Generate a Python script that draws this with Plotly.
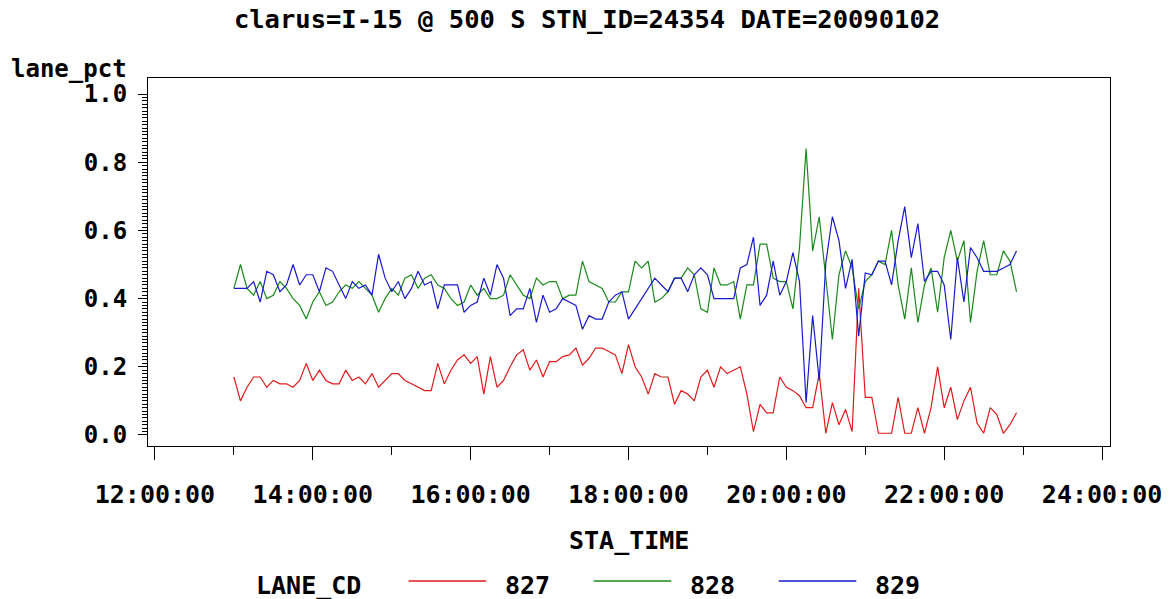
import pandas as pd
import plotly.graph_objects as go

# ---------------- data ----------------
START = "2009-01-02 13:00"
N_POINTS = 120          # 5-minute samples, 13:00 .. 22:55
lane_codes = ["827", "828", "829"]
lane_colors = ["#e01a1a", "#1a8a1a", "#1a1acc"]

lane_827 = [0.17, 0.10, 0.14, 0.17, 0.17, 0.14, 0.16, 0.15, 0.15, 0.14,
            0.16, 0.21, 0.16, 0.19, 0.16, 0.15, 0.15, 0.19, 0.16, 0.17,
            0.15, 0.18, 0.14, 0.16, 0.18, 0.18, 0.16, 0.15, 0.14, 0.13,
            0.13, 0.21, 0.15, 0.19, 0.22, 0.235, 0.21, 0.23, 0.12, 0.23,
            0.14, 0.16, 0.20, 0.235, 0.25, 0.19, 0.22, 0.17, 0.215, 0.215,
            0.23, 0.235, 0.255, 0.205, 0.225, 0.255, 0.255, 0.245, 0.235, 0.18,
            0.265, 0.20, 0.17, 0.12, 0.18, 0.17, 0.17, 0.09, 0.13, 0.12,
            0.10, 0.17, 0.19, 0.14, 0.20, 0.18, 0.19, 0.20, 0.12, 0.01,
            0.09, 0.065, 0.065, 0.17, 0.14, 0.13, 0.115, 0.08, 0.08, 0.18,
            0.005, 0.095, 0.03, 0.075, 0.01, 0.43, 0.11, 0.11, 0.005, 0.005,
            0.005, 0.11, 0.005, 0.005, 0.08, 0.005, 0.08, 0.20, 0.08, 0.14,
            0.045, 0.10, 0.14, 0.035, 0.005, 0.08, 0.06, 0.005, 0.03, 0.065]

lane_828 = [0.43, 0.50, 0.43, 0.41, 0.45, 0.40, 0.41, 0.45, 0.43, 0.40,
            0.38, 0.34, 0.39, 0.42, 0.38, 0.39, 0.42, 0.44, 0.43, 0.45,
            0.43, 0.41, 0.36, 0.40, 0.43, 0.41, 0.46, 0.47, 0.43, 0.46,
            0.47, 0.44, 0.43, 0.40, 0.38, 0.39, 0.44, 0.41, 0.43, 0.40,
            0.40, 0.41, 0.47, 0.44, 0.41, 0.40, 0.46, 0.44, 0.45, 0.45,
            0.40, 0.41, 0.41, 0.51, 0.45, 0.44, 0.43, 0.39, 0.39, 0.42,
            0.42, 0.51, 0.49, 0.51, 0.39, 0.40, 0.42, 0.46, 0.46, 0.49,
            0.47, 0.37, 0.36, 0.49, 0.44, 0.44, 0.45, 0.34, 0.44, 0.44,
            0.56, 0.56, 0.46, 0.45, 0.45, 0.37, 0.55, 0.84, 0.54, 0.64,
            0.45, 0.28, 0.47, 0.54, 0.49, 0.37, 0.45, 0.47, 0.51, 0.50,
            0.60, 0.44, 0.34, 0.49, 0.33, 0.44, 0.49, 0.36, 0.52, 0.60,
            0.51, 0.57, 0.33, 0.48, 0.57, 0.47, 0.47, 0.54, 0.51, 0.42]

lane_829 = [0.43, 0.43, 0.43, 0.45, 0.39, 0.48, 0.47, 0.42, 0.44, 0.50,
            0.44, 0.47, 0.47, 0.42, 0.49, 0.48, 0.44, 0.40, 0.45, 0.43,
            0.44, 0.41, 0.53, 0.46, 0.42, 0.45, 0.40, 0.43, 0.48, 0.44,
            0.45, 0.37, 0.44, 0.44, 0.44, 0.36, 0.38, 0.39, 0.46, 0.41,
            0.50, 0.46, 0.35, 0.37, 0.37, 0.43, 0.33, 0.41, 0.36, 0.37,
            0.40, 0.39, 0.38, 0.31, 0.35, 0.34, 0.34, 0.39, 0.41, 0.42,
            0.34, 0.37, 0.40, 0.43, 0.46, 0.44, 0.42, 0.46, 0.46, 0.42,
            0.47, 0.49, 0.47, 0.40, 0.40, 0.40, 0.40, 0.49, 0.50, 0.58,
            0.38, 0.41, 0.51, 0.41, 0.45, 0.535, 0.45, 0.095, 0.35, 0.16,
            0.505, 0.64, 0.57, 0.43, 0.515, 0.29, 0.475, 0.47, 0.51, 0.51,
            0.44, 0.57, 0.67, 0.52, 0.62, 0.45, 0.48, 0.48, 0.44, 0.28,
            0.52, 0.39, 0.55, 0.52, 0.48, 0.48, 0.48, 0.49, 0.50, 0.54]

x_tick_hours = [12, 14, 16, 18, 20, 22, 24]
x_tick_labels = ["12:00:00", "14:00:00", "16:00:00", "18:00:00",
                 "20:00:00", "22:00:00", "24:00:00"]
y_tick_vals = [0.0, 0.2, 0.4, 0.6, 0.8, 1.0]
y_tick_labels = ["0.0", "0.2", "0.4", "0.6", "0.8", "1.0"]

# ---------------- build ----------------
times = pd.date_range(START, periods=N_POINTS, freq="5min")
hours = [t.hour + t.minute / 60 for t in times]
series = [lane_827, lane_828, lane_829]

W, H = 1174, 599
L, R, T, B = 148, 1115, 78, 446          # plot frame in pixels
FONT = "DejaVu Sans Mono"


def px(xp):
    return (xp - L) / (R - L)


def py(yp):
    return (B - yp) / (B - T)


def bold_font(size):
    return dict(family=FONT, size=size, color="black", weight="bold")


fig = go.Figure()
for code, col, vals in zip(lane_codes, lane_colors, series):
    fig.add_trace(go.Scatter(x=hours, y=vals, mode="lines", name=code,
                             line=dict(color=col, width=1.2),
                             showlegend=False, hoverinfo="skip"))

# manual SAS-style legend
annotations = [
    dict(text="LANE_CD", x=px(255), y=py(585), xref="paper", yref="paper",
         xanchor="left", yanchor="middle", showarrow=False,
         font=bold_font(25)),
]
shapes = []
leg_x0 = [410, 596, 782]
for code, col, x0 in zip(lane_codes, lane_colors, leg_x0):
    shapes.append(dict(type="line", xref="paper", yref="paper",
                       x0=px(x0), x1=px(x0 + 78), y0=py(581), y1=py(581),
                       line=dict(color=col, width=1.5)))
    annotations.append(dict(text=code, x=px(x0 + 95), y=py(585),
                            xref="paper", yref="paper", xanchor="left",
                            yanchor="middle", showarrow=False,
                            font=bold_font(25)))

# axis titles
annotations.append(dict(text="lane_pct", x=px(129), y=py(69),
                        xref="paper", yref="paper", xanchor="right",
                        yanchor="middle", showarrow=False,
                        font=bold_font(24)))
annotations.append(dict(text="STA_TIME", x=px(631), y=py(540),
                        xref="paper", yref="paper", xanchor="center",
                        yanchor="middle", showarrow=False,
                        font=bold_font(25)))

fig.update_layout(
    width=W, height=H,
    margin=dict(l=L, r=W - R, t=T, b=H - B, pad=0),
    paper_bgcolor="white", plot_bgcolor="white",
    title=dict(text="clarus=I-15 @ 500 S STN_ID=24354 DATE=20090102",
               x=0.5, xref="container", xanchor="center",
               y=1 - 19 / H, yref="container", yanchor="middle",
               font=bold_font(25.5)),
    annotations=annotations,
    shapes=shapes,
    xaxis=dict(
        range=[12 - 7 / 79.33, 24 + 8 / 79.33],
        tickmode="array", tickvals=x_tick_hours, ticktext=x_tick_labels,
        ticks="outside", ticklen=13, tickwidth=1, tickcolor="black",
        showline=True, linecolor="black", linewidth=1, mirror=True,
        showgrid=False, zeroline=False,
        tickfont=bold_font(25),
        ticklabelstandoff=13,
        minor=dict(tickmode="array", tickvals=[13, 15, 17, 19, 21, 23],
                   ticks="outside", ticklen=8, tickwidth=1, tickcolor="black"),
    ),
    yaxis=dict(
        range=[-11 / 340, 1 + 16 / 340],
        tickmode="array", tickvals=y_tick_vals, ticktext=y_tick_labels,
        ticks="outside", ticklen=9, tickwidth=1, tickcolor="black",
        showline=True, linecolor="black", linewidth=1, mirror=True,
        showgrid=False, zeroline=False,
        tickfont=bold_font(24),
        ticklabelstandoff=6,
        minor=dict(tickmode="array", tickvals=[i / 100 for i in range(101)],
                   ticks="outside", ticklen=5, tickwidth=1, tickcolor="black"),
    ),
)

fig.write_html(
    "out.html",
    config={"displayModeBar": False, "responsive": False},
    post_script="document.body.style.margin='0';document.body.style.padding='0';"
                "document.body.style.overflow='hidden';",
)
